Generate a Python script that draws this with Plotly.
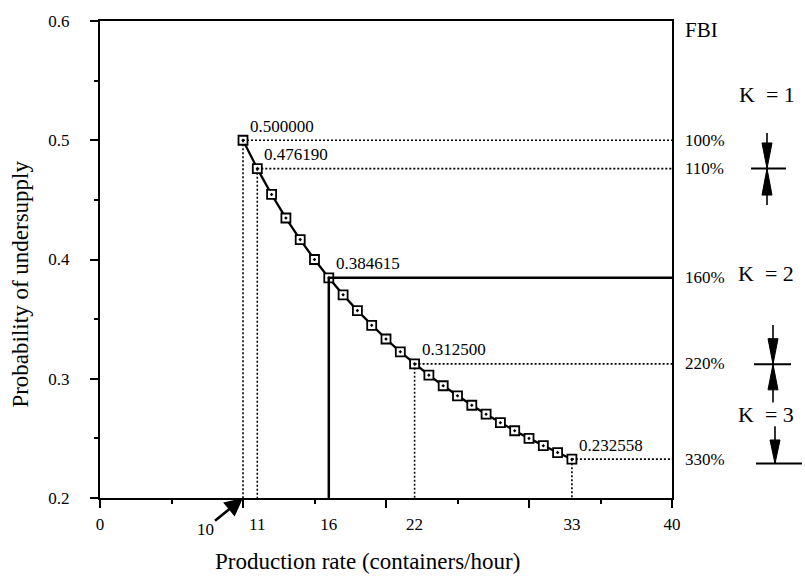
import plotly.graph_objects as go

# ---------------- data ----------------
rate = [10, 11, 12, 13, 14, 15, 16, 17, 18, 19, 20, 21,
        22, 23, 24, 25, 26, 27, 28, 29, 30, 31, 32, 33]
prob = [0.500000, 0.476190, 0.454545, 0.434783, 0.416667, 0.400000,
        0.384615, 0.370370, 0.357143, 0.344828, 0.333333, 0.322581,
        0.312500, 0.303030, 0.294118, 0.285714, 0.277778, 0.270270,
        0.263158, 0.256410, 0.250000, 0.243902, 0.238095, 0.232558]

key_rate = [10, 11, 16, 22, 33]
key_prob = [0.500000, 0.476190, 0.384615, 0.312500, 0.232558]
key_text = ["0.500000", "0.476190", "0.384615", "0.312500", "0.232558"]
key_solid = [False, False, True, False, False]
fbi_text = ["100%", "110%", "160%", "220%", "330%"]

x_tick_vals = [0, 11, 16, 22, 33, 40]
x_tick_text = ["0", "11", "16", "22", "33", "40"]
x_major_ticks = [0, 10, 20, 30, 40]
x_minor_ticks = [5, 15, 25, 35]
y_tick_vals = [0.2, 0.3, 0.4, 0.5, 0.6]
y_tick_text = ["0.2", "0.3", "0.4", "0.5", "0.6"]
y_minor_ticks = [0.25, 0.35, 0.45, 0.55]
k_text = ["K\u00a0\u00a0= 1", "K\u00a0\u00a0= 2", "K\u00a0\u00a0= 3"]

X_RANGE = [0, 40]
Y_RANGE = [0.2, 0.6]

# ---------------- layout helpers ----------------
W, H = 805, 579
ML, MR, MT, MB = 100, 133, 13, 81
PW = W - ML - MR
PH = H - MT - MB
FONT = "Liberation Serif, Times New Roman, serif"


def px_x(px):
    return (px - ML) / PW


def px_y(py):
    return (H - MB - py) / PH


fig = go.Figure()

# guide lines (horizontal to the right frame, vertical down to the x axis)
for xr, yp, solid in zip(key_rate, key_prob, key_solid):
    style = dict(color="black", width=2.5 if solid else 1.6,
                 dash="solid" if solid else "2px,2px")
    fig.add_trace(go.Scatter(x=[xr, X_RANGE[1]], y=[yp, yp], mode="lines",
                             line=style, xaxis="x2", hoverinfo="skip",
                             showlegend=False))
    fig.add_trace(go.Scatter(x=[xr, xr], y=[yp, Y_RANGE[0]], mode="lines",
                             line=style, xaxis="x2", hoverinfo="skip",
                             showlegend=False))

# main curve
fig.add_trace(go.Scatter(
    x=rate, y=prob, mode="lines+markers",
    line=dict(color="black", width=2.3),
    marker=dict(symbol="square-dot", size=9, color="white",
                line=dict(color="black", width=1.8)),
    showlegend=False))

annotations = []
# value labels
for xr, yp, t in zip(key_rate, key_prob, key_text):
    annotations.append(dict(x=xr, y=yp, xref="x", yref="y", text=t,
                            showarrow=False, xanchor="left", yanchor="middle",
                            xshift=5, yshift=14, font=dict(size=17)))
# FBI percentages
for yp, t in zip(key_prob, fbi_text):
    annotations.append(dict(x=px_x(683), y=yp, xref="paper", yref="y", text=t,
                            showarrow=False, xanchor="left", yanchor="middle",
                            font=dict(size=17)))
annotations.append(dict(x=px_x(683), y=px_y(22), xref="paper", yref="paper",
                        text="FBI", showarrow=False, xanchor="left",
                        yanchor="middle", font=dict(size=21)))
for (cx, cy), t in zip([(767, 88), (766, 270), (766, 413)], k_text):
    annotations.append(dict(x=px_x(cx), y=px_y(cy), xref="paper", yref="paper",
                            text=t, showarrow=False, xanchor="center",
                            yanchor="middle", font=dict(size=22)))
# "10" with arrow
annotations.append(dict(x=key_rate[0], y=Y_RANGE[0], xref="x", yref="y",
                        text=str(key_rate[0]), showarrow=True, ax=-38, ay=31,
                        arrowhead=2, arrowsize=1.4, arrowwidth=2.6,
                        arrowcolor="black", font=dict(size=17)))
# axis titles
annotations.append(dict(x=px_x(367), y=px_y(563), xref="paper", yref="paper",
                        text="Production rate (containers/hour)",
                        showarrow=False, xanchor="center", yanchor="middle",
                        font=dict(size=23)))
annotations.append(dict(x=px_x(21), y=px_y(281), xref="paper", yref="paper",
                        text="Probability of undersupply", textangle=-90,
                        showarrow=False, xanchor="center", yanchor="middle",
                        font=dict(size=23)))

# dimension arrows on the right
shapes = []


def pline(x0, y0, x1, y1, w=1.6):
    shapes.append(dict(type="line", xref="paper", yref="paper",
                       x0=px_x(x0), y0=px_y(y0), x1=px_x(x1), y1=px_y(y1),
                       line=dict(color="black", width=w)))


def head(xc, tip, base, half=5):
    path = "M {} {} L {} {} L {} {} Z".format(
        px_x(xc), px_y(tip), px_x(xc - half), px_y(base),
        px_x(xc + half), px_y(base))
    shapes.append(dict(type="path", xref="paper", yref="paper", path=path,
                       fillcolor="black", line=dict(color="black", width=1)))


# K = 1
pline(767, 127, 767, 200)
pline(751, 163, 786, 163, 2)
head(767, 163, 137)
head(767, 163, 190)
# K = 2
pline(773, 322, 773, 401)
pline(754, 362, 791, 362, 2)
head(773, 362, 336)
head(773, 362, 388)
# K = 3
pline(775, 425, 775, 463)
pline(756, 463, 802, 463, 2)
head(775, 463, 439)

fig.update_layout(
    width=W, height=H,
    margin=dict(l=ML, r=MR, t=MT, b=MB, pad=0),
    paper_bgcolor="white", plot_bgcolor="white",
    font=dict(family=FONT, color="black", size=17),
    showlegend=False,
    xaxis=dict(range=X_RANGE, tickvals=x_major_ticks, showticklabels=False,
               ticks="outside", ticklen=8, tickwidth=1.6, tickcolor="black",
               minor=dict(tickvals=x_minor_ticks, ticks="outside", ticklen=4,
                          tickwidth=1.6, tickcolor="black"),
               showline=True, linewidth=2, linecolor="black", mirror=True,
               showgrid=False, zeroline=False, fixedrange=True),
    xaxis2=dict(range=X_RANGE, overlaying="x", anchor="y", side="bottom",
                tickvals=x_tick_vals, ticktext=x_tick_text, ticks="",
                ticklabelstandoff=14, tickfont=dict(size=17, family=FONT),
                showline=False, showgrid=False, zeroline=False),
    yaxis=dict(range=Y_RANGE, tickvals=y_tick_vals, ticktext=y_tick_text,
               ticks="outside", ticklen=8, tickwidth=1.6, tickcolor="black",
               minor=dict(tickvals=y_minor_ticks, ticks="outside", ticklen=4,
                          tickwidth=1.6, tickcolor="black"),
               ticklabelstandoff=17, tickfont=dict(size=17, family=FONT),
               showline=True, linewidth=2, linecolor="black", mirror=True,
               showgrid=False, zeroline=False),
    annotations=annotations,
    shapes=shapes,
)

fig.write_html("out.html")
